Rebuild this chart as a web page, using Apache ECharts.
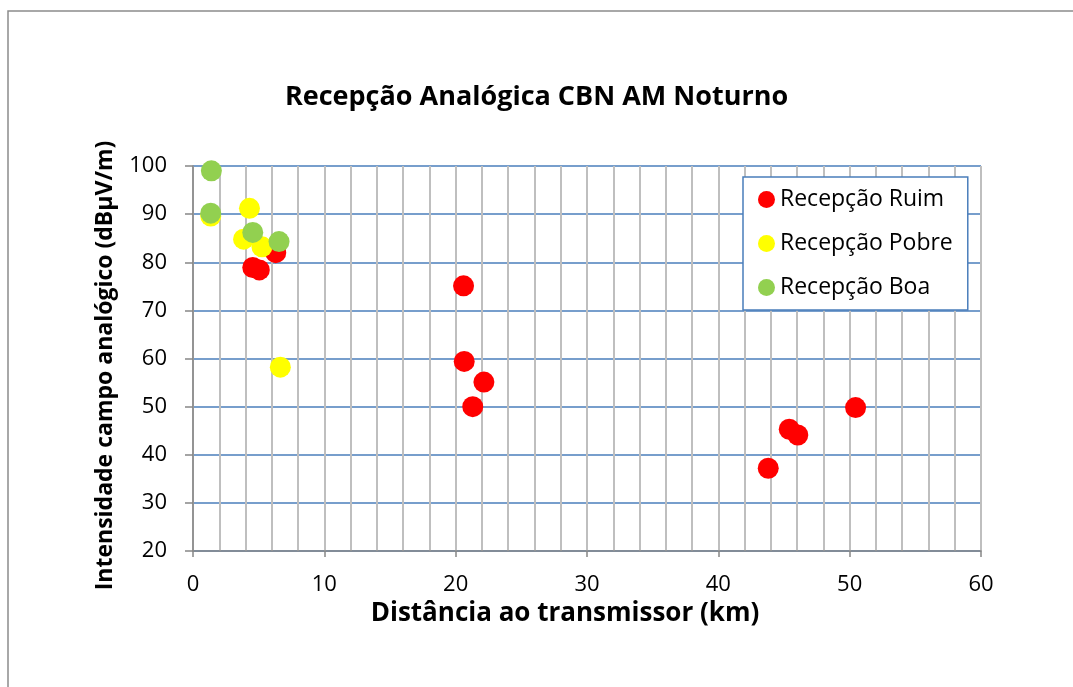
<!DOCTYPE html>
<html><head><meta charset="utf-8">
<script src="https://cdn.jsdelivr.net/npm/echarts@6/dist/echarts.min.js"></script>
<style>html,body{margin:0;padding:0;background:#fff;}#c{width:1073px;height:687px;}</style>
</head><body><div id="c"></div>
<script>
const chartTitle = 'Recepção Analógica CBN AM Noturno';
const xName = 'Distância ao transmissor (km)';
const yName = 'Intensidade campo analógico (dBµV/m)';
const seriesNames = ['Recepção Ruim', 'Recepção Pobre', 'Recepção Boa'];
const ruimX = [4.55, 5.05, 6.3, 20.6, 20.65, 22.15, 21.3, 43.8, 45.4, 46.05, 50.45];
const ruimY = [78.9, 78.4, 82.0, 75.1, 59.4, 55.1, 50.0, 37.2, 45.3, 44.1, 49.8];
const pobreX = [1.35, 4.3, 3.85, 5.25, 6.65];
const pobreY = [89.6, 91.2, 84.8, 83.2, 58.2];
const boaX = [1.4, 1.35, 4.55, 6.55];
const boaY = [99.0, 90.2, 86.2, 84.3];

const font = 'Open Sans';
function pairs(xs, ys) { return xs.map((x, i) => [x, ys[i]]); }
const chart = echarts.init(document.getElementById('c'));
chart.setOption({
  backgroundColor: '#fff',
  animation: false,
  textStyle: { fontFamily: font },
  title: {
    text: chartTitle, left: 'center', top: 79,
    textStyle: { fontFamily: font, fontWeight: 'bold', fontSize: 27, color: '#000' }
  },
  graphic: [{
    type: 'rect', shape: { x: 8, y: 11, width: 1200, height: 800 },
    style: { fill: 'none', stroke: '#8c8c8c', lineWidth: 1.5 }, silent: true
  }],
  grid: { left: 193, top: 166, right: 92, bottom: 136 },
  legend: {
    orient: 'vertical', left: 743, top: 177,
    padding: [11, 15, 11, 15], itemGap: 21,
    itemWidth: 17, itemHeight: 17,
    borderColor: '#4A7EBB', borderWidth: 1.5, backgroundColor: '#fff',
    textStyle: { fontFamily: font, fontSize: 23, color: '#000' },
    data: seriesNames.map(n => ({ name: n, icon: 'circle' }))
  },
  xAxis: {
    type: 'value', min: 0, max: 60, interval: 10,
    name: xName, nameLocation: 'middle', nameGap: 48,
    nameTextStyle: { fontFamily: font, fontWeight: 'bold', fontSize: 26, color: '#000', padding: [0, 44, 0, 0] },
    axisLine: { lineStyle: { color: '#868686', width: 1.5 } },
    axisTick: { show: true, length: 6, lineStyle: { color: '#868686', width: 1.5 } },
    axisLabel: { fontFamily: font, fontSize: 22, color: '#000', margin: 23 },
    splitLine: { show: true, lineStyle: { color: '#BFBFBF', width: 2 } },
    minorTick: { show: false, splitNumber: 5 },
    minorSplitLine: { show: true, lineStyle: { color: '#BFBFBF', width: 2 } }
  },
  yAxis: {
    type: 'value', min: 20, max: 100, interval: 10,
    name: yName, nameLocation: 'middle', nameGap: 76, nameRotate: 90,
    nameTextStyle: { fontFamily: font, fontWeight: 'bold', fontSize: 23, color: '#000', padding: [0, 14, 0, 0] },
    axisLine: { show: true, lineStyle: { color: '#868686', width: 1.5 } },
    axisTick: { show: true, length: 8, lineStyle: { color: '#868686', width: 1.5 } },
    axisLabel: { fontFamily: font, fontSize: 22, color: '#000', margin: 26 },
    splitLine: { show: true, lineStyle: { color: '#4A7EBB', width: 1.5 } }
  },
  series: [
    { name: seriesNames[0], type: 'scatter', symbol: 'circle', symbolSize: 21,
      itemStyle: { color: '#FF0000', opacity: 1 }, data: pairs(ruimX, ruimY) },
    { name: seriesNames[1], type: 'scatter', symbol: 'circle', symbolSize: 21,
      itemStyle: { color: '#FFFF00', opacity: 1 }, data: pairs(pobreX, pobreY) },
    { name: seriesNames[2], type: 'scatter', symbol: 'circle', symbolSize: 21,
      itemStyle: { color: '#92D050', opacity: 1 }, data: pairs(boaX, boaY) }
  ]
});
</script></body></html>
